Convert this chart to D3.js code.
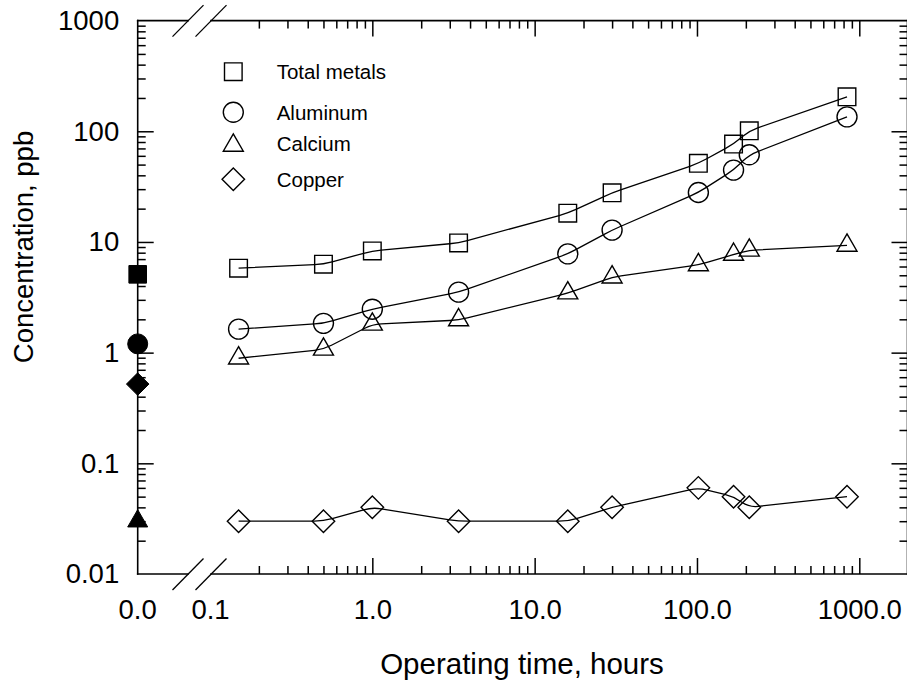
<!DOCTYPE html>
<html>
<head>
<meta charset="utf-8">
<script src="https://cdn.jsdelivr.net/npm/d3@7"></script>
<style>
  html, body { margin: 0; padding: 0; background: #fff; }
  svg { display: block; }
  text { font-family: "Liberation Sans", Arial, Helvetica, sans-serif; fill: #000; }
</style>
</head>
<body>
<svg id="chart" width="907" height="681"></svg>
<script>
// ---------------- data ----------------
const times        = [0.15, 0.5, 1.0, 3.4, 16, 30, 102, 168, 210, 840];
const totalMetals  = [5.8, 6.3, 8.3, 9.8, 18.2, 27.8, 51.3, 76.6, 101, 205];
const aluminum     = [1.63, 1.84, 2.47, 3.52, 7.8, 12.8, 28.0, 44.6, 61.3, 135];
const calcium      = [0.89, 1.07, 1.8, 1.97, 3.45, 4.8, 6.2, 7.7, 8.4, 9.3];
const copper       = [0.03, 0.03, 0.04, 0.03, 0.03, 0.04, 0.06, 0.05, 0.04, 0.05];
// values at operating time 0 (filled markers on the y axis)
const initialValues = [5.1, 1.2, 0.03, 0.52];   // total, aluminum, calcium, copper
const seriesNames  = ["Total metals", "Aluminum", "Calcium", "Copper"];
const seriesShapes = ["square", "circle", "triangle", "diamond"];
const xTickValues  = [0.1, 1, 10, 100, 1000];
const xTickLabels  = ["0.1", "1.0", "10.0", "100.0", "1000.0"];
const xZeroLabel   = "0.0";
const yTickValues  = [0.01, 0.1, 1, 10, 100, 1000];
const yTickLabels  = ["0.01", "0.1", "1", "10", "100", "1000"];
const xTitle = "Operating time, hours";
const yTitle = "Concentration, ppb";

// ---------------- layout ----------------
const svg = d3.select("#chart");
const X0 = 137.7;          // x position of "0.0" (left axis)
const xLeftEdge = 210, xRightEdge = 859.3;
const yBottom = 574, yTop = 20.6;
const xRightAxis = 907.5;

const x = d3.scaleLog().domain([0.1, 1000]).range([xLeftEdge, xRightEdge]);
const y = d3.scaleLog().domain([0.01, 1000]).range([yBottom, yTop]);

const minorOf = decades => decades.flatMap(d => d3.range(2, 10).map(k => k * d));
const xMinor = minorOf([0.1, 1, 10, 100]);
const xMajor = [1, 10, 100, 1000];
const yMinor = minorOf([0.01, 0.1, 1, 10, 100]);
const yMajor = [0.1, 1, 10, 100];

const MAJ = 16, MIN = 8;
const font = 27.5;

function styleAxis(g) {
  g.select(".domain").remove();
  g.selectAll("line").attr("stroke", "#000").attr("stroke-width", 1.5);
  g.selectAll("text").attr("font-size", font + "px")
    .attr("font-family", '"Liberation Sans", Arial, sans-serif').attr("fill", "#000");
}

// bottom ticks (inward)
svg.append("g").attr("transform", `translate(0,${yBottom})`)
  .call(d3.axisBottom(x).tickValues(xMajor).tickSize(-MAJ).tickFormat(""))
  .call(styleAxis);
svg.append("g").attr("transform", `translate(0,${yBottom})`)
  .call(d3.axisBottom(x).tickValues(xMinor).tickSize(-MIN).tickFormat(""))
  .call(styleAxis);
// top ticks (inward)
svg.append("g").attr("transform", `translate(0,${yTop})`)
  .call(d3.axisTop(x).tickValues(xMajor).tickSize(-MAJ).tickFormat(""))
  .call(styleAxis);
svg.append("g").attr("transform", `translate(0,${yTop})`)
  .call(d3.axisTop(x).tickValues(xMinor).tickSize(-MIN).tickFormat(""))
  .call(styleAxis);
// left ticks (inward)
svg.append("g").attr("transform", `translate(${X0},0)`)
  .call(d3.axisLeft(y).tickValues(yMajor).tickSize(-MAJ).tickFormat(""))
  .call(styleAxis);
svg.append("g").attr("transform", `translate(${X0},0)`)
  .call(d3.axisLeft(y).tickValues(yMinor).tickSize(-MIN).tickFormat(""))
  .call(styleAxis);
// right ticks (inward)
svg.append("g").attr("transform", `translate(${xRightAxis},0)`)
  .call(d3.axisRight(y).tickValues(yMajor).tickSize(-MAJ).tickFormat(""))
  .call(styleAxis);
svg.append("g").attr("transform", `translate(${xRightAxis},0)`)
  .call(d3.axisRight(y).tickValues(yMinor).tickSize(-MIN).tickFormat(""))
  .call(styleAxis);

// tick labels
svg.append("g").attr("transform", `translate(0,${yBottom})`)
  .call(d3.axisBottom(x).tickValues(xTickValues).tickSize(0).tickPadding(25)
        .tickFormat((d, i) => xTickLabels[i]))
  .call(styleAxis);
svg.append("text").attr("x", X0).attr("y", yBottom + 25).attr("dy", "0.71em")
  .attr("text-anchor", "middle").attr("font-size", font + "px").text(xZeroLabel);
svg.append("g").attr("transform", `translate(${X0},0)`)
  .call(d3.axisLeft(y).tickValues(yTickValues).tickSize(0).tickPadding(18.5)
        .tickFormat((d, i) => yTickLabels[i]))
  .call(styleAxis);

// axis lines with break
const brR = x(0.1) + 1, brL = brR - 23;
const axisLines = [
  [X0, yBottom, brL, yBottom], [brR, yBottom, xRightAxis, yBottom],
  [X0, yTop, brL, yTop], [brR, yTop, xRightAxis, yTop],
  [X0, yTop, X0, yBottom], [xRightAxis, yTop, xRightAxis, yBottom]
];
svg.append("g").selectAll("line").data(axisLines).join("line")
  .attr("x1", d => d[0]).attr("y1", d => d[1]).attr("x2", d => d[2]).attr("y2", d => d[3])
  .attr("stroke", "#000").attr("stroke-width", 1.6).attr("stroke-linecap", "square");
// break slashes
const slashes = [];
[yBottom, yTop].forEach(yy => [brL, brR].forEach(xx => slashes.push([xx - 15.5, yy + 16, xx + 15.5, yy - 15.5])));
svg.append("g").selectAll("line").data(slashes).join("line")
  .attr("x1", d => d[0]).attr("y1", d => d[1]).attr("x2", d => d[2]).attr("y2", d => d[3])
  .attr("stroke", "#000").attr("stroke-width", 1.3);

// ---------------- symbols ----------------
const shapes = {
  square:   d3.symbolSquare,
  circle:   d3.symbolCircle,
  triangle: d3.symbolTriangle,
  diamond:  { draw(ctx, size) { const r = Math.sqrt(size) / 2; ctx.moveTo(0, -r); ctx.lineTo(r, 0); ctx.lineTo(0, r); ctx.lineTo(-r, 0); ctx.closePath(); } }
};
const sizes = { square: 17.6 * 17.6, circle: Math.PI * 10 * 10, triangle: 0.433 * 20 * 20, diamond: 22.5 * 22.5 };
const sym = s => d3.symbol().type(shapes[s]).size(sizes[s]);

// polyline with slightly rounded corners at the data points
function roundedCorners(context) {
  let pts = [];
  const R = 9;
  return {
    areaStart() {}, areaEnd() {},
    lineStart() { pts = []; },
    point(px, py) { pts.push([+px, +py]); },
    lineEnd() {
      if (!pts.length) return;
      context.moveTo(pts[0][0], pts[0][1]);
      for (let i = 1; i < pts.length - 1; i++) {
        const [ax, ay] = pts[i - 1], [px, py] = pts[i], [bx, by] = pts[i + 1];
        const la = Math.hypot(ax - px, ay - py), lb = Math.hypot(bx - px, by - py);
        const ra = Math.min(R, la / 2), rb = Math.min(R, lb / 2);
        context.lineTo(px + (ax - px) * ra / la, py + (ay - py) * ra / la);
        context.quadraticCurveTo(px, py, px + (bx - px) * rb / lb, py + (by - py) * rb / lb);
      }
      const last = pts[pts.length - 1];
      context.lineTo(last[0], last[1]);
    }
  };
}

const allSeries = [totalMetals, aluminum, calcium, copper];
const line = d3.line().x(d => x(d[0])).y(d => y(d[1])).curve(roundedCorners);

allSeries.forEach((vals, si) => {
  const pts = times.map((t, i) => [t, vals[i]]);
  svg.append("path").datum(pts).attr("d", line)
    .attr("fill", "none").attr("stroke", "#000").attr("stroke-width", 1.3);
  svg.append("g").selectAll("path").data(pts).join("path")
    .attr("transform", d => `translate(${x(d[0])},${y(d[1])})`)
    .attr("d", sym(seriesShapes[si]))
    .attr("fill", "none").attr("stroke", "#000").attr("stroke-width", 1.4);
  // initial value (filled)
  svg.append("path")
    .attr("transform", `translate(${X0},${y(initialValues[si])})`)
    .attr("d", sym(seriesShapes[si]))
    .attr("fill", "#000").attr("stroke", "#000").attr("stroke-width", 1);
});

// ---------------- legend ----------------
const legY = [71.7, 112.3, 145.5, 179.3];
const lg = svg.append("g");
seriesNames.forEach((name, i) => {
  lg.append("path").attr("transform", `translate(233.3,${legY[i]})`)
    .attr("d", sym(seriesShapes[i])).attr("fill", "none").attr("stroke", "#000").attr("stroke-width", 1.4);
  lg.append("text").attr("x", 276.7).attr("y", legY[i] + (i === 2 ? -2 : 0)).attr("dy", "0.36em")
    .attr("font-size", "20.5px").text(name);
});

// ---------------- titles ----------------
svg.append("text").attr("x", 522).attr("y", 674).attr("text-anchor", "middle")
  .attr("font-size", "29.5px").text(xTitle);
svg.append("text").attr("transform", "translate(33,247) rotate(-90)").attr("text-anchor", "middle")
  .attr("font-size", "27.5px").text(yTitle);
</script>
</body>
</html>
